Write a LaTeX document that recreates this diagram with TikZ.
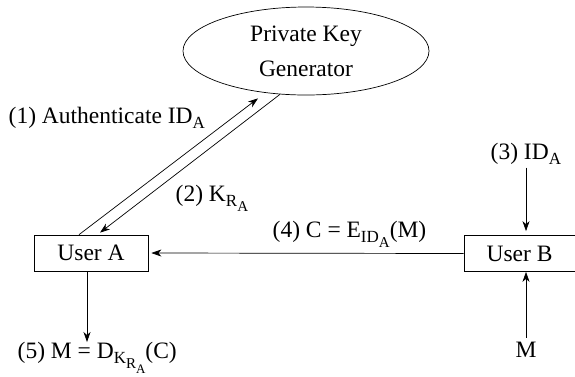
\documentclass[tikz,border=0pt]{standalone}
\usepackage{fontspec}
\setmainfont{Liberation Serif}
\usetikzlibrary{positioning, arrows.meta, shapes.geometric}
\newcommand{\msgarrow}{-{Stealth[length=10pt,width=7pt,inset=3pt]}}
\newcommand{\lowsub}[2][17]{\raisebox{-5pt}{\fontsize{#1}{#1}\selectfont #2}}
\tikzset{userbox/.style={draw, minimum width=114pt, minimum height=36pt, inner sep=0pt}}

\begin{document}
\begin{tikzpicture}[x=1pt, y=-1pt, line width=0.7pt,
        font=\fontsize{23.5}{35}\selectfont]
        \useasboundingbox (0,0) rectangle (575,376);
        \node[draw, ellipse, minimum width=246pt, minimum height=88pt, align=center, inner sep=0pt]
        (pkg) at (306,51) {Private Key\\Generator};
        \node[userbox] (usera) at (91,253) {User A};
        \node[userbox, minimum width=111pt] (userb) at (519.5,253.5) {User B};

        \node[anchor=base west] (auth) at (5,123) {(1) Authenticate ID\lowsub{A}};
        \node[anchor=base west] (key) at (172,201) {(2) K\lowsub{R\lowsub[15]{A}}};
        \node[anchor=base west] (id) at (487,159) {(3) ID\lowsub{A}};
        \node[anchor=base west] (enc) at (269,237) {(4) C = E\lowsub{ID\lowsub[15]{A}}(M)};
        \node[anchor=base west] (dec) at (14,358) {(5) M = D\lowsub{K\lowsub[15]{R\lowsub[13]{A}}}(C)};
        \node[anchor=base] (msg) at (526,357) {M};

        \draw[\msgarrow] ([xshift=-12pt]usera.north) -- ([xshift=-48pt,yshift=-3pt]pkg.south);
        \draw[\msgarrow] ([xshift=-26pt,yshift=1pt]pkg.south) -- ([xshift=9pt,yshift=2pt]usera.north);
        \draw[\msgarrow] (msg.north |- id.south) -- ([yshift=4pt]msg.north |- userb.north);
        \draw[\msgarrow] (userb.west) -- ([xshift=3pt]usera.east);
        \draw[\msgarrow] (msg.north) -- (msg.north |- userb.south);
        \draw[\msgarrow] ([xshift=-4pt]usera.south) -- ([xshift=-4pt,yshift=-4pt]usera.south |- dec.north);
    \end{tikzpicture}
\end{document}
